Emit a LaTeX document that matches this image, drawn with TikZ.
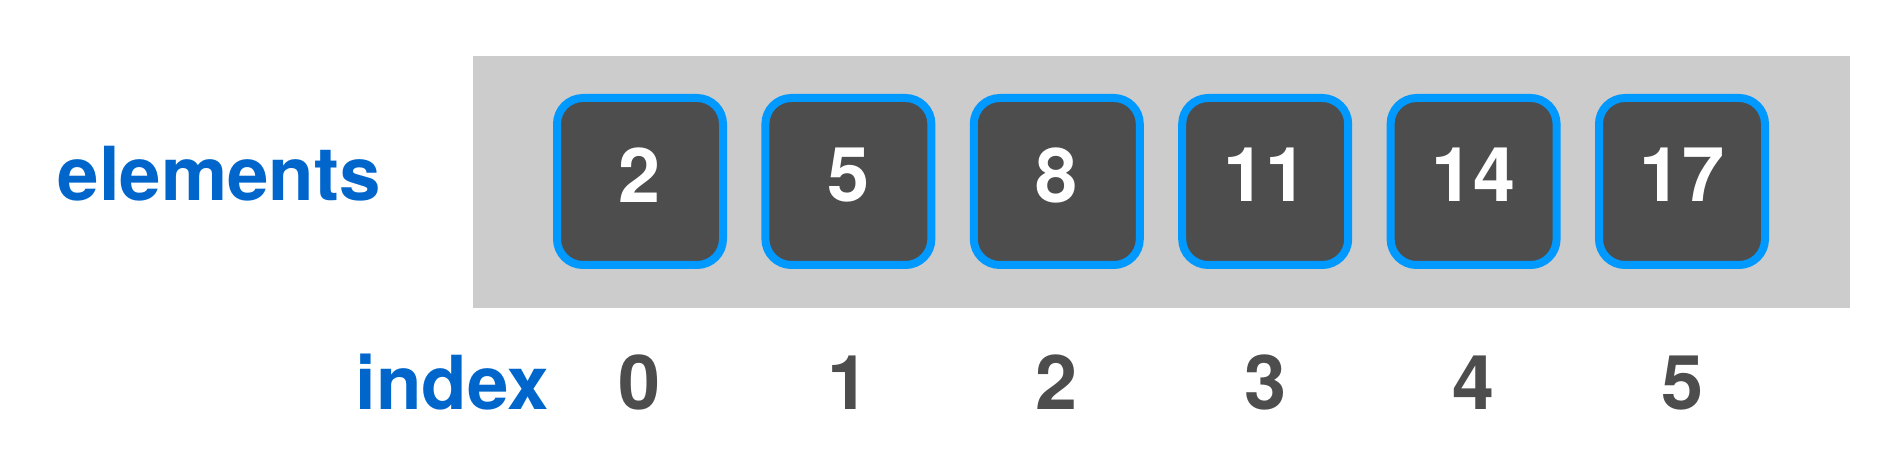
\documentclass[tikz,border=0pt]{standalone}
\usepackage{fontspec}
\setmainfont{TeX Gyre Heros}
\definecolor{labelblue}{HTML}{0066CC}
\definecolor{cellblue}{HTML}{0099FF}
\definecolor{cellgray}{HTML}{4D4D4D}
\definecolor{arraygray}{HTML}{CCCCCC}
\tikzset{
  cell/.style={draw=cellblue, fill=cellgray, line width=0.8mm, rounded corners=2.6mm,
    minimum width=16.6mm, minimum height=16.7mm, inner sep=0pt, text depth=1.3mm,
    text=white, font=\bfseries\fontsize{21.5}{26}\selectfont},
  idx/.style={anchor=base, inner sep=0pt, text=cellgray, font=\bfseries\fontsize{21.5}{26}\selectfont},
  rowlabel/.style={anchor=base west, inner sep=0pt, text=labelblue, font=\bfseries\fontsize{21.2}{26}\selectfont}
}
\begin{document}
\begin{tikzpicture}
      \useasboundingbox (0,0) rectangle (18.98,-4.68);
      \fill[arraygray] (4.73,-0.56) rectangle (18.50,-3.08);
      \node[rowlabel] (elements) at (0.57,-2.01) {elements};
      \node[rowlabel] (index) at (3.55,-4.10) {index};
      \node[cell] (e0) at (6.400,-1.815) {2};
      \node[cell] (e1) at (8.484,-1.815) {5};
      \node[cell] (e2) at (10.568,-1.815) {8};
      \node[cell] (e3) at (12.652,-1.815) {11};
      \node[cell] (e4) at (14.736,-1.815) {14};
      \node[cell] (e5) at (16.820,-1.815) {17};
      \node[idx] (i0) at (e0 |- index.base) {0};
      \node[idx] (i1) at (e1 |- index.base) {1};
      \node[idx] (i2) at (e2 |- index.base) {2};
      \node[idx] (i3) at (e3 |- index.base) {3};
      \node[idx] (i4) at (e4 |- index.base) {4};
      \node[idx] (i5) at (e5 |- index.base) {5};
    \end{tikzpicture}
\end{document}
